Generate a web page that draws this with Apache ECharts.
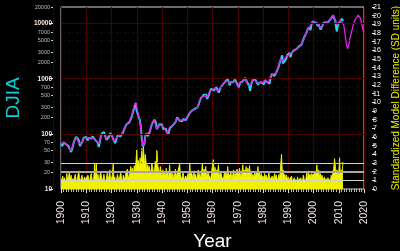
<!DOCTYPE html>
<html><head><meta charset="utf-8">
<script src="https://cdn.jsdelivr.net/npm/echarts@6/dist/echarts.min.js"></script>
<style>html,body{margin:0;padding:0;background:#000}#c{width:400px;height:251px}</style>
</head><body><div id="c"></div>
<script>
// Actual DJIA (cyan)
const djiaYears = [
1900,1900.5,1901,1901.5,1902,1902.5,1903,1903.5,1904,1904.5,1905,1905.5,1906,1906.5,1907,1907.5,1908,1908.5,1909,1909.5,
1910,1910.5,1911,1911.5,1912,1912.5,1913,1913.5,1914,1914.5,1915,1915.5,1916,1916.5,1917,1917.5,1918,1918.5,1919,1919.5,
1920,1920.5,1921,1921.5,1922,1922.5,1923,1923.5,1924,1924.5,1925,1925.5,1926,1926.5,1927,1927.5,1928,1928.5,1929,1929.5,1929.8,
1930,1930.4,1930.8,1931.2,1931.6,1932,1932.4,1932.7,1933,1933.5,1934,1934.5,1935,1935.5,1936,1936.5,1937,1937.5,1938,1938.5,1939,1939.5,
1940,1940.5,1941,1941.5,1942,1942.4,1942.8,1943.2,1943.6,1944,1944.5,1945,1945.5,1946,1946.5,1947,1947.5,1948,1948.5,1949,1949.5,
1950,1950.5,1951,1951.5,1952,1952.5,1953,1953.5,1954,1954.5,1955,1955.5,1956,1956.5,1957,1957.5,1957.9,1958.3,1958.7,1959,1959.5,
1960,1960.5,1961,1961.5,1962,1962.5,1963,1963.5,1964,1964.5,1965,1965.5,1966,1966.5,1966.8,1967.2,1967.6,1968,1968.5,1968.9,1969.4,1969.8,
1970.3,1970.6,1971,1971.5,1972,1972.5,1973,1973.5,1974,1974.5,1974.9,1975.3,1975.7,1976,1976.5,1977,1977.5,1978,1978.5,1979,1979.5,
1980,1980.3,1980.8,1981.2,1981.7,1982.2,1982.6,1983,1983.5,1984,1984.5,1985,1985.5,1986,1986.5,1987,1987.6,1987.9,1988.3,1988.8,1989.3,1989.7,
1990.3,1990.6,1990.9,1991.3,1991.8,1992.3,1992.8,1993.3,1993.8,1994.2,1994.7,1995.2,1995.7,1996.2,1996.7,1997.2,1997.7,1998.2,1998.6,1998.8,1999.2,1999.6,
2000,2000.4,2000.8,2001.2,2001.7,2002,2002.4,2002.8,2003.2,2003.6,2004,2004.5,2004.9,2005.4,2005.9,2006.4,2006.9,2007.3,2007.8,2008.2,2008.6,2008.9,2009.2,2009.6,
2010,2010.4,2010.8,2011.2,2011.5,2011.7
];
const djiaValues = [
66,60,70,74,65,66,60,52,47,55,68,80,88,82,78,60,58,74,85,92,
88,76,84,86,82,90,84,78,82,70,58,78,98,92,108,92,78,82,88,104,
100,86,74,68,82,94,98,90,96,104,120,135,150,145,160,180,205,220,300,360,385,
260,280,200,180,135,80,58,62,66,100,102,92,104,125,150,165,180,165,122,130,150,140,
148,122,130,124,108,96,112,130,138,138,146,155,170,200,190,172,182,170,185,175,178,
200,210,240,255,268,275,285,268,300,340,400,450,480,510,490,510,430,450,520,600,660,
640,610,660,700,710,560,660,700,780,840,880,890,980,860,760,860,900,860,900,960,880,800,
700,700,850,880,900,950,1040,900,850,750,600,780,830,970,990,960,900,780,850,830,860,
860,790,940,980,860,810,820,1050,1220,1240,1120,1240,1330,1550,1850,2200,2650,1900,2050,2150,2400,2750,
2700,2900,2450,2900,3000,3300,3250,3450,3700,3850,3750,4100,4700,5500,5900,6800,7900,8600,8900,7600,9600,10900,
11400,10500,10600,10400,9000,9800,9600,7800,8200,9300,10400,10200,10600,10400,10700,11300,12300,13200,14200,12400,11300,8900,7200,9200,
10400,10200,11200,12300,12600,11200
];
// Model (magenta)
const modelYears = [
1900,1901,1902,1903,1904,1905,1906,1907,1908,1909,
1910,1911,1912,1913,1914,1915,1916,1917,1918,1919,
1920,1921,1922,1923,1924,1925,1926,1927,1928,
1929,1929.7,1930.2,1930.8,1931.4,1932,1932.5,1933,1933.6,
1934,1935,1936,1937,1937.8,1938.5,1939,1940,1941,1942,1943,1944,1945,1946,1947,1948,1949,
1950,1951,1952,1953,1954,1955,1956,1957,1958,1959,1960,1961,1962,1963,1964,1965,1966,1967,1968,1969,
1970,1971,1972,1973,1974,1975,1976,1977,1978,1979,1980,1981,1982,1983,1984,1985,1986,
1987,1987.8,1988.5,1989.5,1990.5,1991.5,1992.5,1993.5,1994.5,1995.5,1996.5,1997.5,1998.5,1999.5,2000.3,2001,2002,2002.8,2003.5,2004.3,2005.3,2006.3,2007.2,2007.8,2008.5,2009.2,2010,2010.8,2011.5,
2012,2012.5,2013,2013.5,2014,2014.5,2015.2,2015.8,2016.5,2017.1,2017.7,2018.1,2018.6,2019.1,2019.6,2020
];
const modelValues = [
64,70,66,56,50,70,86,70,64,84,
86,82,86,82,74,66,96,100,82,96,
94,72,84,94,98,124,148,168,215,
330,370,270,210,150,88,60,68,98,
98,108,152,175,125,132,145,142,126,100,132,140,158,192,176,180,176,
204,244,270,278,310,410,490,480,470,610,630,680,600,680,790,880,920,830,890,900,
720,860,920,990,760,760,970,930,820,840,860,950,830,1100,1200,1250,1600,
2300,2100,2100,2600,2750,2950,3250,3550,3800,4500,5700,7500,8700,10500,11000,10200,9500,8300,9000,10300,10500,11100,13000,14200,12000,9500,10500,11500,12000,
9500,6300,4300,3500,4200,5500,7500,9600,11800,13000,14200,14600,12500,10000,7800,6900
];
// Standardized model difference (yellow), 3 samples per year from 1900
const sdFirstYear = 1900;
const sdPerYear = 3;
const sdValues = [
1.2,0.8,1.5, 0.9,1.3,0.7, 1.1,1.8,0.9, 1.4,2.0,1.0, 1.6,0.8,1.2, 0.9,1.4,1.7, 1.1,0.6,1.5, 2.1,1.3,0.9, 1.2,1.6,0.8, 1.0,1.4,1.1,
1.3,0.9,1.6, 1.2,0.7,1.5, 1.8,1.1,0.8, 1.4,3.0,1.2, 2.9,1.0,1.7, 0.8,1.3,2.0, 1.5,0.9,1.2, 1.7,1.1,0.6, 1.3,1.9,1.0, 1.5,2.2,0.9,
1.2,1.6,3.0, 1.0,1.4,0.8, 1.1,1.7,1.3, 0.9,1.5,2.0, 1.2,0.8,1.6, 1.4,1.1,1.9, 1.7,2.3,1.2, 1.5,2.1,2.6, 1.8,2.4,1.6, 2.7,2.0,3.1,
4.5,2.6,3.3, 2.2,3.6,2.8, 4.7,3.0,4.9, 2.5,4.0,3.2, 1.9,2.8,2.3, 2.6,1.7,2.2, 3.0,2.4,1.8, 2.1,3.2,2.5, 4.5,2.7,2.2, 1.8,2.6,1.9,
1.4,2.2,1.6, 1.9,1.2,2.4, 1.5,2.0,1.1, 2.8,1.6,1.9, 1.3,1.8,1.0, 1.7,2.3,1.4, 1.2,1.6,2.5, 3.0,1.5,1.1, 1.4,2.0,1.3, 1.0,1.5,1.2,
1.3,1.8,1.1, 3.0,1.4,1.9, 1.6,1.1,2.1, 1.2,1.7,1.0, 1.5,2.2,1.3, 1.8,1.1,2.0, 3.0,1.6,2.3, 1.9,2.6,1.4, 1.2,2.0,1.5, 1.7,1.2,2.1,
2.0,3.4,1.8, 2.5,1.6,2.2, 1.9,2.8,1.5, 1.3,2.0,1.4, 1.6,1.1,1.9, 1.4,2.0,1.2, 2.6,1.8,1.5, 1.3,1.9,1.1, 1.6,2.2,1.4, 1.8,1.3,2.3,
2.1,1.5,2.4, 1.8,1.2,2.0, 2.8,1.7,2.2, 1.9,2.6,1.6, 2.4,1.8,2.7, 1.5,2.1,1.3, 1.7,1.2,1.9, 1.4,2.0,1.6, 2.6,1.5,1.9, 1.3,1.8,1.2,
1.5,1.1,1.8, 1.2,1.6,1.0, 1.4,2.0,1.1, 1.3,0.9,1.5, 1.0,1.4,1.8, 1.2,1.6,0.9, 1.3,1.7,1.1, 2.8,4.0,1.9, 2.2,1.4,1.7, 1.1,1.6,1.0,
1.4,0.8,1.2, 1.0,1.5,0.7, 0.9,1.3,0.8, 1.1,0.6,1.4, 0.8,1.2,0.9, 1.3,0.7,1.0, 1.6,1.1,0.8, 1.2,1.9,1.0, 2.1,1.4,1.7, 1.2,1.8,1.5,
1.7,1.3,2.0, 1.5,2.8,1.6, 2.2,1.4,1.8, 1.1,1.6,1.3, 1.0,1.4,0.9, 1.2,0.8,1.3, 1.1,1.5,0.9, 1.6,1.2,1.9, 2.4,3.5,2.6, 1.8,2.2,1.4,
1.9,3.6,1.5, 2.2,1.7,3.1
];
// Axis ticks
const majorTicks = [10, 100, 1000, 10000];
const minorTicks = [20, 30, 50, 70, 200, 300, 500, 700, 2000, 3000, 5000, 7000, 20000];
const sdLevels = [1, 2, 3];

const FONT = "'Liberation Sans',Arial,sans-serif";
const DARKRED = '#480000';

const zip = (a, b) => a.map((v, i) => [v, b[i]]);
const sdData = sdValues.map((v, i) => [sdFirstYear + i / sdPerYear, v]);
const plain = v => String(Math.round(v));

const chart = echarts.init(document.getElementById('c'), null, {renderer: 'canvas'});
chart.setOption({
  animation: false,
  backgroundColor: '#000',
  textStyle: {fontFamily: FONT},
  grid: {left: 61, right: 36, top: 7, bottom: 62, containLabel: false, outerBoundsMode: 'none',
         show: true, borderColor: '#d8d8d8', borderWidth: 1, backgroundColor: 'transparent'},
  xAxis: {
    type: 'value', min: 1900, max: 2020, interval: 10, offset: 8,
    name: 'Year', nameLocation: 'middle', nameGap: 30,
    nameTextStyle: {color: '#ffffff', fontSize: 19, fontFamily: FONT},
    axisLine: {show: true, lineStyle: {color: '#666', width: 1}},
    axisTick: {show: true, length: 4, lineStyle: {color: '#e0e0e0'}},
    minorTick: {show: true, splitNumber: 10, length: 3, lineStyle: {color: '#bbb'}},
    axisLabel: {rotate: 90, color: '#f2e2e2', fontSize: 10.5, margin: 4, fontFamily: FONT, formatter: plain},
    splitLine: {show: true, lineStyle: {color: DARKRED, width: 1.2}}
  },
  yAxis: [
    {
      type: 'log', logBase: 10, min: 10, max: 20000, position: 'left', offset: 8,
      name: 'DJIA', nameLocation: 'middle', nameGap: 29, nameRotate: 90,
      nameTextStyle: {color: '#10cfd8', fontSize: 19, fontFamily: FONT},
      axisLine: {show: true, lineStyle: {color: DARKRED, type: 'dotted'}},
      axisTick: {show: true, length: 4, customValues: majorTicks, lineStyle: {color: '#f0e0e0'}},
      axisLabel: {customValues: majorTicks, color: '#ffe6e0', fontSize: 6.5, fontWeight: 'bold', margin: 1, fontFamily: FONT, formatter: plain},
      splitLine: {show: false}
    },
    {
      type: 'log', logBase: 10, min: 10, max: 20000, position: 'left', offset: 8,
      axisLine: {show: false},
      axisTick: {show: true, length: 2, customValues: minorTicks, lineStyle: {color: '#cccccc'}},
      axisLabel: {customValues: minorTicks, color: '#bdbdbd', fontSize: 5.5, margin: 3, fontFamily: FONT, formatter: plain},
      splitLine: {show: false}
    },
    {
      type: 'value', min: 0, max: 21, interval: 1, position: 'right', offset: 8,
      name: 'Standardized Model Difference (SD units)', nameLocation: 'middle', nameGap: 16, nameRotate: 90,
      nameTextStyle: {color: '#f0f000', fontSize: 10, fontFamily: FONT},
      axisLine: {show: false},
      axisTick: {show: true, length: 3, lineStyle: {color: '#e0e0e0'}},
      axisLabel: {color: '#ffffff', fontSize: 7, margin: 1, fontFamily: FONT, formatter: plain},
      splitLine: {show: false}
    }
  ],
  series: [
    {
      name: 'grid', type: 'line', yAxisIndex: 0, data: [], z: 0, silent: true,
      markLine: {
        silent: true, symbol: 'none', label: {show: false}, animation: false,
        data: majorTicks.slice(1).map(v => ({yAxis: v, lineStyle: {color: DARKRED, width: 1.2, type: 'solid'}}))
          .concat(minorTicks.slice(0, -1).map(v => ({yAxis: v, lineStyle: {color: '#5a1010', width: 1, type: [1, 7]}})))
      }
    },
    {
      name: 'SD', type: 'line', yAxisIndex: 2, data: sdData, symbol: 'none', z: 2,
      lineStyle: {color: '#ffff00', width: 0.8},
      areaStyle: {color: '#f0f000', opacity: 1},
      markLine: {
        silent: true, symbol: 'none', label: {show: false}, animation: false,
        data: sdLevels.map(v => ({yAxis: v, lineStyle: {color: v === 2 ? '#a8a8a8' : '#d0d0d0', width: v === 2 ? 2 : 1, type: 'solid'}}))
      }
    },
    {
      name: 'DJIA', type: 'line', yAxisIndex: 0, data: zip(djiaYears, djiaValues), symbol: 'none', z: 3,
      lineStyle: {color: '#20dde6', width: 2}
    },
    {
      name: 'Model', type: 'line', yAxisIndex: 0, data: zip(modelYears, modelValues), symbol: 'none', z: 4,
      lineStyle: {color: '#e020e6', width: 1.3}
    }
  ]
});
</script>
</body></html>
